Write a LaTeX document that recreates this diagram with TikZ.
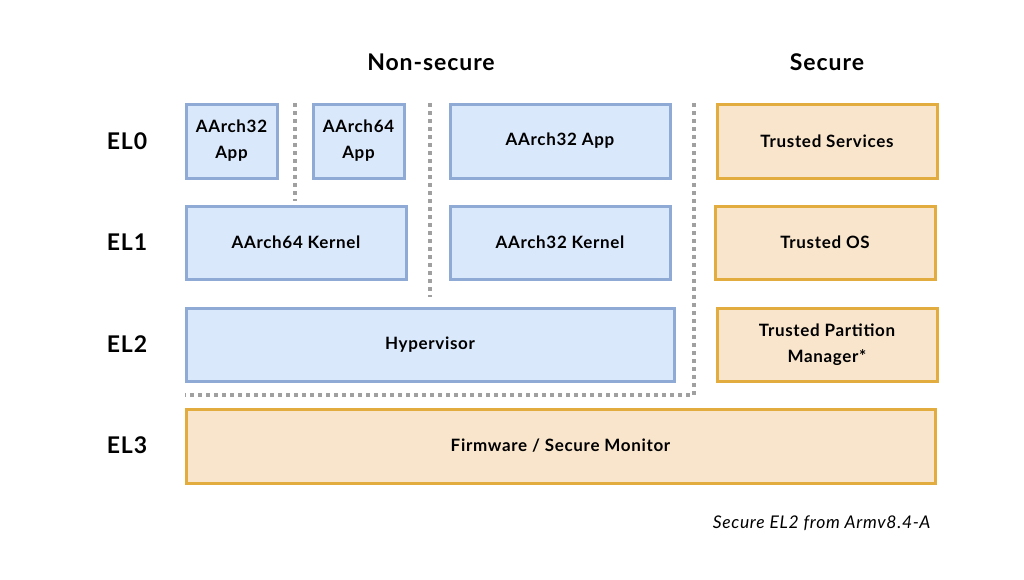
\documentclass[tikz,border=0pt]{standalone}
\usepackage{fontspec}
\setmainfont{Lato}[LetterSpace=4]
\definecolor{nsfill}{HTML}{DAE8FC}
\definecolor{nsdraw}{HTML}{8FAAD5}
\definecolor{sfill}{HTML}{F9E5CC}
\definecolor{sdraw}{HTML}{E2AC3E}
\definecolor{dotgray}{HTML}{A0A0A0}
\begin{document}
\begin{tikzpicture}[x=1pt,y=-1pt,
  nsbox/.style={draw=nsdraw,fill=nsfill,line width=3pt,font=\bfseries\fontsize{17}{26}\selectfont,align=center},
  sbox/.style={draw=sdraw,fill=sfill,line width=3pt,font=\bfseries\fontsize{17}{26}\selectfont,align=center},
  lvl/.style={font=\bfseries\fontsize{23}{26}\selectfont},
  hdr/.style={font=\bfseries\fontsize{23}{26}\selectfont},
  sep/.style={draw=dotgray,line width=4pt,dash pattern=on 4pt off 4pt}]
\useasboundingbox (0,0) rectangle (1024,579);
% dotted separators
\coordinate (v1t) at (295,103); \coordinate (v1b) at (295,201);
\coordinate (v2t) at (430,103); \coordinate (v2b) at (430,297);
\coordinate (v3t) at (694,103); \coordinate (v3b) at (694,395);
\coordinate (h1l) at (185,395);
\draw[sep] (v1t) -- (v1b);
\draw[sep] (v2t) -- (v2b);
\draw[sep] (v3t) -- (v3b) -- (h1l);
% EL0
\node[nsbox,minimum width=91pt,minimum height=74pt] (a32) at (231.5,141) {AArch32\\App};
\node[nsbox,minimum width=91pt,minimum height=74pt] (a64) at (358.5,141) {AArch64\\App};
\node[nsbox,minimum width=220pt,minimum height=74pt] (a32b) at (560,141) {AArch32 App};
\node[sbox,minimum width=220pt,minimum height=74pt] (ts) at (827,141) {Trusted Services};
% EL1
\node[nsbox,minimum width=220pt,minimum height=73pt] (k64) at (296,242.5) {AArch64 Kernel};
\node[nsbox,minimum width=220pt,minimum height=73pt] (k32) at (560,242.5) {AArch32 Kernel};
\node[sbox,minimum width=220pt,minimum height=73pt] (tos) at (825,242.5) {Trusted OS};
% EL2
\node[nsbox,minimum width=488pt,minimum height=73pt] (hyp) at (430,344.5) {Hypervisor};
\node[sbox,minimum width=220pt,minimum height=73pt] (tpm) at (827,344.5) {Trusted Partition\\Manager*};
% EL3
\node[sbox,minimum width=749pt,minimum height=74pt] (fw) at (560.5,446) {Firmware / Secure Monitor};
% labels
\node[lvl] (el0) at (127,141) {EL0};
\node[lvl] (el1) at (127,242) {EL1};
\node[lvl] (el2) at (127,344) {EL2};
\node[lvl] (el3) at (127,445) {EL3};
\node[hdr] (ns) at (431,62) {Non-secure};
\node[hdr] (sec) at (827,62) {Secure};
\node[font=\itshape\fontsize{17.5}{20}\selectfont,anchor=east] (note) at (934,523) {Secure EL2 from Armv8.4-A};
\end{tikzpicture}
\end{document}
